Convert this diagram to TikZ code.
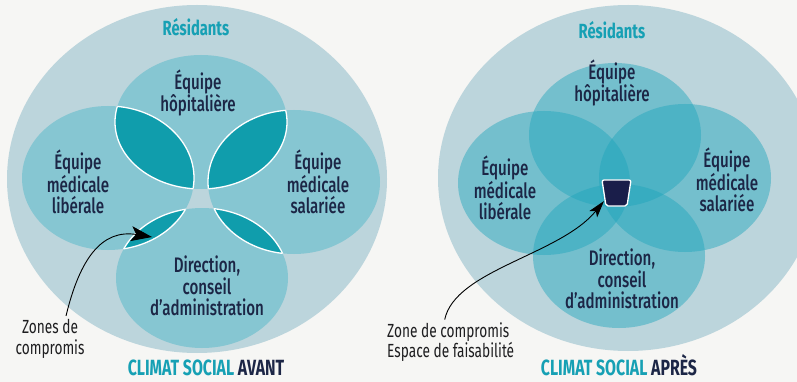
\documentclass[tikz,border=0pt]{standalone}
\usepackage{fontspec}
\setmainfont{Fira Sans}[FakeStretch=0.72]
\newfontfamily\medfont{Fira Sans}[FakeStretch=0.72, UprightFont=* Medium]
\usetikzlibrary{arrows.meta}

\definecolor{paper}{RGB}{246,246,244}
\definecolor{haze}{RGB}{188,213,220}
\definecolor{disc}{RGB}{134,198,210}
\definecolor{lens}{RGB}{16,157,172}
\definecolor{navy}{RGB}{28,38,70}
\definecolor{tealtitle}{RGB}{22,160,180}
\definecolor{veil}{RGB}{30,165,188}
\definecolor{core}{RGB}{26,30,74}
\definecolor{ink}{RGB}{30,30,32}

\begin{document}
\begin{tikzpicture}[x=1pt,y=-1pt,
  lbl/.style={font=\medfont\fontsize{21}{21.5}\selectfont, text=navy, align=center, inner sep=0pt},
  head/.style={font=\bfseries\fontsize{20.5}{22}\selectfont, text=tealtitle, inner sep=0pt},
  title/.style={font=\bfseries\fontsize{22}{24}\selectfont, text=navy, inner sep=0pt, anchor=base},
  note/.style={font=\fontsize{19}{21.5}\selectfont, text=ink, inner sep=0pt},
  rim/.style={draw=white, line width=1.3pt},
  conn/.style={draw=black, line width=0.9pt}
]
\clip (0,0) rectangle (797,382);
\fill[paper] (0,0) rectangle (797,382);

% ---------- left panel: separate circles, lens-shaped compromise zones
\coordinate (aT) at (201,122);
\coordinate (aL) at (108,178);
\coordinate (aR) at (294,182);
\coordinate (aB) at (202,278);

\fill[haze] (197,179) ellipse [x radius=190pt, y radius=174pt];
\fill[disc] (aT) ellipse [x radius=86pt, y radius=67pt];
\fill[disc] (aL) ellipse [x radius=86pt, y radius=72pt];
\fill[disc] (aR) ellipse [x radius=86pt, y radius=72pt];
\fill[disc] (aB) ellipse [x radius=86pt, y radius=70pt];

\begin{scope}
  \clip (aT) ellipse [x radius=86pt, y radius=67pt];
  \fill[lens] (aL) ellipse [x radius=86pt, y radius=72pt];
  \fill[lens] (aR) ellipse [x radius=86pt, y radius=72pt];
  \draw[rim] (aL) ellipse [x radius=86pt, y radius=72pt];
  \draw[rim] (aR) ellipse [x radius=86pt, y radius=72pt];
\end{scope}
\begin{scope}
  \clip (aB) ellipse [x radius=86pt, y radius=70pt];
  \fill[lens] (aL) ellipse [x radius=86pt, y radius=72pt];
  \fill[lens] (aR) ellipse [x radius=86pt, y radius=72pt];
  \draw[rim] (aL) ellipse [x radius=86pt, y radius=72pt];
  \draw[rim] (aR) ellipse [x radius=86pt, y radius=72pt];
\end{scope}
\begin{scope}
  \clip (aL) ellipse [x radius=86pt, y radius=72pt];
  \draw[rim] (aT) ellipse [x radius=86pt, y radius=67pt];
  \draw[rim] (aB) ellipse [x radius=86pt, y radius=70pt];
\end{scope}
\begin{scope}
  \clip (aR) ellipse [x radius=86pt, y radius=72pt];
  \draw[rim] (aT) ellipse [x radius=86pt, y radius=67pt];
  \draw[rim] (aB) ellipse [x radius=86pt, y radius=70pt];
\end{scope}

\node[head] (resL) at (196,27) {Résidants};
\node[lbl] (hopL) at (198,93) {Équipe\\hôpitalière};
\node[lbl] (libL) at (78,182) {Équipe\\médicale\\libérale};
\node[lbl] (salL) at (318,182) {Équipe\\médicale\\salariée};
\node[lbl] (dirL) at (207,286) {Direction,\\conseil\\d’administration};
\node[note, align=center] (zonesL) at (50,339) {Zones de\\compromis};
\node[title] (titleL) at (206,375) {{\color{tealtitle}CLIMAT SOCIAL} AVANT};

\coordinate (tipL) at (152,237);
\draw[conn, -{Stealth[length=21pt,width=15pt,inset=5pt]}]
  ([xshift=16pt,yshift=3pt]zonesL.north) .. controls (80,258) and (102,229) .. (tipL);

% ---------- right panel: overlapping circles, shared feasibility space
\coordinate (bT) at (615,135);
\coordinate (bL) at (544,183);
\coordinate (bR) at (685,178);
\coordinate (bB) at (619,256);

\fill[haze] (628,178) ellipse [x radius=190pt, y radius=173pt];
\begin{scope}[fill opacity=0.45]
  \fill[veil] (bT) ellipse [x radius=86pt, y radius=72pt];
  \fill[veil] (bL) ellipse [x radius=86pt, y radius=72pt];
  \fill[veil] (bR) ellipse [x radius=86pt, y radius=74pt];
  \fill[veil] (bB) ellipse [x radius=86pt, y radius=72pt];
\end{scope}

\draw[fill=core, draw=white, line width=1.3pt, rounded corners=2pt]
  (602,180) -- (631,180) -- (627,206) -- (606,206) -- cycle;

\node[head] (resR) at (612,30) {Résidants};
\node[lbl] (hopR) at (612,83) {Équipe\\hôpitalière};
\node[lbl] (libR) at (505,188) {Équipe\\médicale\\libérale};
\node[lbl] (salR) at (727,180) {Équipe\\médicale\\salariée};
\node[lbl] (dirR) at (622,279) {Direction,\\conseil\\d’administration};
\node[note, align=left, anchor=west, font=\fontsize{19}{19.5}\selectfont] (zonesR) at (387,342) {Zone de compromis\\Espace de faisabilité};
\node[title] (titleR) at (619,375) {{\color{tealtitle}CLIMAT SOCIAL} APRÈS};

\coordinate (tipR) at (604,201);
\draw[conn, -{Stealth[length=17pt,width=10pt,inset=4pt]}]
  ([xshift=-6pt,yshift=3pt]zonesR.north) .. controls (455,270) and (560,255) .. (tipR);
\end{tikzpicture}
\end{document}
